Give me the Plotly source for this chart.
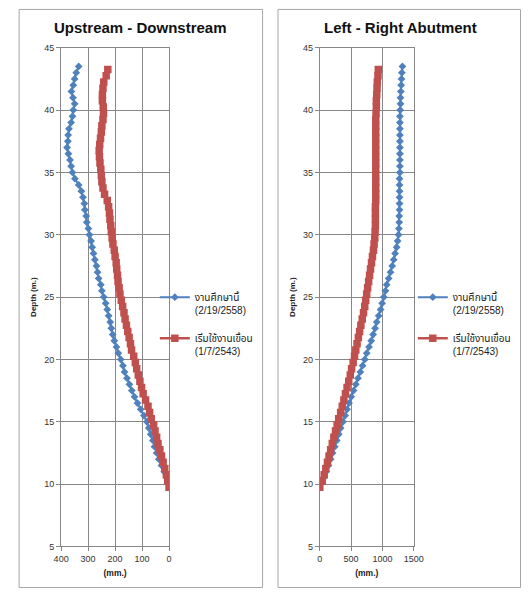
import plotly.graph_objects as go

W, H = 531, 594

# Depths (m.)
depth_now = [43.5, 43.0, 42.5, 42.0, 41.5, 41.0, 40.5, 40.0, 39.5, 39.0, 38.5, 38.0, 37.5, 37.0,
             36.5, 36.0, 35.5, 35.0, 34.5, 34.0, 33.5, 33.0, 32.5, 32.0, 31.5, 31.0, 30.5, 30.0,
             29.5, 29.0, 28.5, 28.0, 27.5, 27.0, 26.5, 26.0, 25.5, 25.0, 24.5, 24.0, 23.5, 23.0,
             22.5, 22.0, 21.5, 21.0, 20.5, 20.0, 19.5, 19.0, 18.5, 18.0, 17.5, 17.0, 16.5, 16.0,
             15.5, 15.0, 14.5, 14.0, 13.5, 13.0, 12.5, 12.0, 11.5, 11.0, 10.5, 10.0]
depth_base = [43.25, 42.75, 42.25, 41.75, 41.25, 40.75, 40.25, 39.75, 39.25, 38.75, 38.25, 37.75,
              37.25, 36.75, 36.25, 35.75, 35.25, 34.75, 34.25, 33.75, 33.25, 32.75, 32.25, 31.75,
              31.25, 30.75, 30.25, 29.75, 29.25, 28.75, 28.25, 27.75, 27.25, 26.75, 26.25, 25.75,
              25.25, 24.75, 24.25, 23.75, 23.25, 22.75, 22.25, 21.75, 21.25, 20.75, 20.25, 19.75,
              19.25, 18.75, 18.25, 17.75, 17.25, 16.75, 16.25, 15.75, 15.25, 14.75, 14.25, 13.75,
              13.25, 12.75, 12.25, 11.75, 11.25, 10.75, 10.25, 9.75]

# Upstream - Downstream (mm.)
ud_now = [335, 344, 350, 355, 362, 356, 350, 355, 358, 363, 371, 374, 375, 378,
          373, 367, 363, 358, 349, 335, 325, 319, 314, 312, 307, 305, 299, 295,
          289, 285, 280, 275, 269, 265, 261, 253, 249, 242, 235, 229, 224, 218,
          214, 209, 203, 195, 188, 179, 171, 165, 156, 147, 138, 128, 117, 105,
          93, 82, 75, 68, 60, 54, 46, 38, 28, 18, 8, -4]
ud_base = [227, 233, 242, 245, 247, 247, 244, 243, 245, 249, 251, 254, 257, 259,
           258, 256, 253, 251, 249, 245, 239, 229, 224, 221, 219, 216, 214, 211,
           208, 203, 200, 196, 194, 191, 189, 185, 182, 177, 172, 167, 163, 158,
           153, 148, 143, 139, 131, 125, 120, 114, 108, 102, 96, 87, 78, 72,
           66, 57, 52, 46, 41, 34, 28, 22, 16, 10, 5, 0]

# Left - Right Abutment (mm.)
lr_now = [1319, 1310, 1304, 1299, 1294, 1288, 1288, 1283, 1279, 1279, 1279, 1279, 1279, 1279,
          1279, 1279, 1279, 1279, 1273, 1273, 1273, 1273, 1273, 1273, 1268, 1268, 1263, 1257,
          1242, 1227, 1202, 1180, 1156, 1129, 1099, 1068, 1048, 1022, 995, 971, 940, 909,
          883, 852, 821, 786, 749, 718, 683, 647, 610, 575, 539, 502, 467, 436,
          405, 370, 333, 302, 271, 240, 205, 174, 139, 102, 62, 15]
lr_base = [934, 929, 918, 914, 909, 903, 903, 898, 894, 894, 894, 894, 894, 894,
           894, 894, 894, 894, 894, 894, 894, 894, 888, 888, 888, 888, 883, 878,
           867, 857, 841, 826, 810, 795, 780, 764, 749, 733, 718, 698, 678, 656,
           636, 616, 595, 575, 555, 533, 508, 487, 462, 436, 410, 385, 359, 333,
           302, 277, 251, 225, 200, 174, 148, 123, 97, 71, 40, 0]

names = ["งานศึกษานี้<br>(2/19/2558)", "เริ่มใช้งานเขื่อน<br>(1/7/2543)"]
titles = ["Upstream - Downstream", "Left - Right Abutment"]

BLUE = "#4F81BD"
RED = "#C0504D"
GRID = "#878787"
FONT = "Liberation Sans, Noto Sans Thai, Noto Sans, sans-serif"

def px(x):
    return x / W

def py(y):
    return 1 - y / H

fig = go.Figure()

fig.add_trace(go.Scatter(x=ud_now, y=depth_now, mode="lines+markers", name=names[0],
                         line=dict(color=BLUE, width=2), marker=dict(symbol="diamond", size=6, color=BLUE),
                         xaxis="x", yaxis="y", legend="legend", legendgroup="a"))
fig.add_trace(go.Scatter(x=ud_base, y=depth_base, mode="lines+markers", name=names[1],
                         line=dict(color=RED, width=2.5), marker=dict(symbol="square", size=7.5, color=RED),
                         xaxis="x", yaxis="y", legend="legend", legendgroup="b"))
fig.add_trace(go.Scatter(x=lr_now, y=depth_now, mode="lines+markers", name=names[0],
                         line=dict(color=BLUE, width=2), marker=dict(symbol="diamond", size=6, color=BLUE),
                         xaxis="x2", yaxis="y2", legend="legend2", legendgroup="c"))
fig.add_trace(go.Scatter(x=lr_base, y=depth_base, mode="lines+markers", name=names[1],
                         line=dict(color=RED, width=2.5), marker=dict(symbol="square", size=7.5, color=RED),
                         xaxis="x2", yaxis="y2", legend="legend2", legendgroup="d"))

tickfont = dict(family=FONT, size=9, color="#333333")
common_ax = dict(showgrid=True, gridcolor=GRID, gridwidth=1, showline=True, linecolor=GRID,
                 linewidth=1, mirror=True, ticks="outside", ticklen=4, tickcolor=GRID,
                 tickfont=tickfont, zeroline=False, fixedrange=True)

ydom = [py(550.7), py(43.5)]
xtitle = dict(text="<b>(mm.)</b>", font=dict(family=FONT, size=8.5, color="#222222"), standoff=6)
ytitle = dict(text="<b>Depth (m.)</b>", font=dict(family=FONT, size=8, color="#222222"), standoff=6)

legend_common = dict(font=dict(family=FONT, size=10, color="#222222"), bgcolor="rgba(0,0,0,0)",
                     borderwidth=0, itemwidth=30, valign="top", tracegroupgap=12,
                     xanchor="left", yanchor="top", traceorder="grouped")

fig.update_layout(
    width=W, height=H, margin=dict(l=0, r=0, t=0, b=0),
    paper_bgcolor="white", plot_bgcolor="white", showlegend=True,
    xaxis=dict(domain=[px(55), px(166.7)], range=[400, 0], tickvals=[400, 300, 200, 100, 0],
               anchor="y", title=xtitle, **common_ax),
    yaxis=dict(domain=ydom, range=[5, 45], dtick=5, anchor="x", title=ytitle, **common_ax),
    xaxis2=dict(domain=[px(322.7), px(420)], range=[0, 1500], tickvals=[0, 500, 1000, 1500],
                anchor="y2", title=xtitle, **common_ax),
    yaxis2=dict(domain=ydom, range=[5, 45], dtick=5, anchor="x2", title=ytitle, **common_ax),
    legend=dict(x=px(152), y=py(284), **legend_common),
    legend2=dict(x=px(419), y=py(284), **legend_common),
    shapes=[
        dict(type="rect", xref="paper", yref="paper", x0=px(11.5), x1=px(263.5), y0=py(592.5), y1=py(4.5),
             line=dict(color="#A6A6A6", width=1)),
        dict(type="rect", xref="paper", yref="paper", x0=px(279.5), x1=px(530.5), y0=py(592.5), y1=py(4.5),
             line=dict(color="#A6A6A6", width=1)),
    ],
    annotations=[
        dict(text="<b>" + titles[0] + "</b>", x=px(137), y=py(23), xref="paper", yref="paper",
             showarrow=False, xanchor="center", yanchor="middle",
             font=dict(family=FONT, size=15, color="#111111")),
        dict(text="<b>" + titles[1] + "</b>", x=px(406), y=py(23), xref="paper", yref="paper",
             showarrow=False, xanchor="center", yanchor="middle",
             font=dict(family=FONT, size=15, color="#111111")),
    ],
)

fig.write_html("out.html", config={"displayModeBar": False},
               post_script="document.body.style.margin='0';document.body.style.padding='0';document.body.style.overflow='hidden';")
